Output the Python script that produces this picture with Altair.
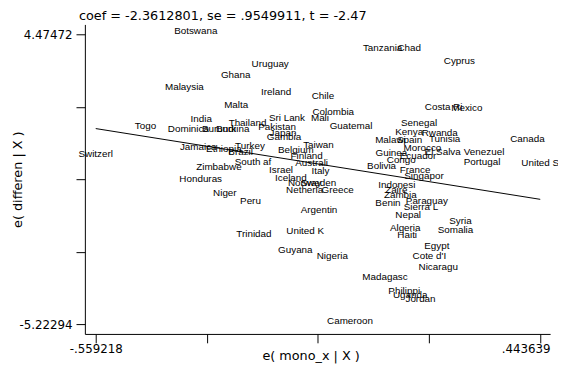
import altair as alt
import pandas as pd

countries = [
    "Botswana", "Uruguay", "Ghana", "Malaysia", "Ireland", "Chile", "Malta",
    "Tanzania", "Chad", "Cyprus", "India", "Sri Lank", "Togo", "Dominica",
    "Burundi", "Burkina", "Thailand", "Pakistan", "Japan", "Gambia",
    "Jamaica", "Ethiopia", "Turkey", "Brazil", "Belgium", "Switzerl",
    "South af", "Zimbabwe", "Israel", "Iceland", "Honduras", "Finland",
    "Taiwan", "Guatemal", "Colombia", "Mali", "Costa Ri", "Mexico",
    "Senegal", "Kenya", "Rwanda", "Malawi", "Spain", "Tunisia", "Canada",
    "Morocco", "Guinea", "Ecuador", "El Salva", "Bolivia", "Venezuel",
    "Portugal", "United S", "Congo", "France", "Singapor", "Indonesi",
    "Zaire", "Paraguay", "Benin", "Sierra L", "Nepal", "Syria", "Algeria",
    "Somalia", "Haiti", "Argentin", "United K", "Egypt", "Guyana",
    "Nigeria", "Cote d'I", "Nicaragu", "Netherla", "Greece", "Norway",
    "Sweden", "Niger", "Peru", "Trinidad", "Madagasc", "Philippi",
    "Uganda", "Jordan", "Cameroon", "Australi", "Italy", "Zambia",
]

x_resid = [
    -0.3335, -0.1656, -0.2435, -0.3591, -0.1523, -0.0467, -0.2423,
    0.0880, 0.1480, 0.2613, -0.3213, -0.1278, -0.4469, -0.3502,
    -0.2813, -0.2501, -0.2168, -0.1501, -0.1367, -0.1345,
    -0.3280, -0.2701, -0.2112, -0.2323, -0.1078, -0.559218,
    -0.2045, -0.2813, -0.1412, -0.1189, -0.3224, -0.0833,
    -0.0567, 0.0167, -0.0233, -0.0533, 0.2258, 0.2780,
    0.1702, 0.1479, 0.2169, 0.1057, 0.1490, 0.2280, 0.4148,
    0.1779, 0.1079, 0.1679, 0.2235, 0.0857, 0.3169,
    0.3125, 0.443639, 0.1301, 0.1613, 0.1813, 0.1201,
    0.1190, 0.1879, 0.1001, 0.1746, 0.1457, 0.2636, 0.1390,
    0.2524, 0.1435, -0.0555, -0.0867, 0.2102, -0.1089,
    -0.0255, 0.1935, 0.2135, -0.0878, -0.0133, -0.0878,
    -0.0567, -0.2679, -0.2101, -0.2023, 0.0934, 0.1368,
    0.1501, 0.1735, 0.0145, -0.0722, -0.0522, 0.1280,
]

y_resid = [
    4.47472, 3.386, 3.014, 2.611, 2.453, 2.314, 2.011,
    3.914, 3.914, 3.485, 1.539, 1.582, 1.308, 1.209,
    1.209, 1.209, 1.407, 1.275, 1.078, 0.946,
    0.606, 0.540, 0.649, 0.451, 0.494, 0.362,
    0.098, -0.077, -0.176, -0.430, -0.473, 0.309,
    0.682, 1.299, 1.760, 1.582, 1.958, 1.912,
    1.407, 1.111, 1.078, 0.837, 0.837, 0.870, 0.880,
    0.583, 0.418, 0.309, 0.451, -0.021, 0.428,
    0.088, 0.065, 0.164, -0.153, -0.374, -0.680,
    -0.836, -1.198, -1.277, -1.419, -1.670, -1.858, -2.099,
    -2.188, -2.353, -1.505, -2.221, -2.725, -2.847,
    -3.035, -3.045, -3.398, -0.845, -0.845, -0.605,
    -0.605, -0.944, -1.198, -2.320, -3.748, -4.223,
    -4.365, -4.497, -5.22294, 0.055, -0.209, -1.000,
]

fit_x = [-0.559218, 0.443639]
fit_y = [1.3205, -1.0475]

x_ticks = [-0.559218, -0.308504, -0.057790, 0.192925, 0.443639]
x_tick_labels = ["-.559218", "", "", "", ".443639"]
y_ticks = [4.47472, 2.050305, -0.37411, -2.798525, -5.22294]
y_tick_labels = ["4.47472", "", "", "", "-5.22294"]

x_domain = [-0.58368, 0.46591]
y_domain = [-5.55181, 4.80454]

title_text = "coef = -2.3612801, se = .9549911, t = -2.47"
x_title = "e( mono_x | X )"
y_title = "e( differen | X )"


def label_expr(values, labels):
    expr = "''"
    for v, lab in zip(values, labels):
        expr = f"abs(datum.value - ({v})) < 1e-6 ? '{lab}' : ({expr})"
    return expr


df = pd.DataFrame({"country": countries, "x": x_resid, "y": y_resid})
fit = pd.DataFrame({"x": fit_x, "y": fit_y})

xscale = alt.Scale(domain=x_domain, nice=False, zero=False)
yscale = alt.Scale(domain=y_domain, nice=False, zero=False)

common_axis = dict(
    grid=False,
    domainColor="black",
    domainWidth=1,
    tickColor="black",
    tickWidth=1,
    tickSize=9,
    labelFont="DejaVu Sans",
    labelFontSize=12,
    labelColor="black",
    titleFont="DejaVu Sans",
    titleFontSize=13,
    titleFontWeight="normal",
    titleColor="black",
)

xaxis = alt.Axis(
    values=x_ticks,
    labelExpr=label_expr(x_ticks, x_tick_labels),
    labelAlign={"condition": {"test": "datum.value > 0.4", "value": "right"}, "value": "center"},
    labelOffset={"condition": {"test": "datum.value > 0.4", "value": 10}, "value": 0},
    labelPadding=1,
    labelFlush=False,
    labelOverlap=False,
    title=x_title,
    titleX=229,
    titleY=22,
    titleBaseline="middle",
    titleAlign="center",
    **common_axis,
)

yaxis = alt.Axis(
    values=y_ticks,
    labelExpr=label_expr(y_ticks, y_tick_labels),
    labelPadding=4,
    labelFlush=False,
    labelOverlap=False,
    title=y_title,
    titleX=-68,
    titleY=157,
    titleAngle=-90,
    titleBaseline="middle",
    titleAlign="center",
    **common_axis,
)

line = alt.Chart(fit).mark_line(color="black", strokeWidth=1).encode(
    x=alt.X("x:Q", scale=xscale, axis=xaxis),
    y=alt.Y("y:Q", scale=yscale, axis=yaxis),
)

labels = alt.Chart(df).mark_text(
    font="Liberation Sans", fontSize=10, align="center", baseline="alphabetic", color="black"
).encode(
    x=alt.X("x:Q", scale=xscale, axis=xaxis),
    y=alt.Y("y:Q", scale=yscale, axis=yaxis),
    text="country:N",
)

chart = alt.layer(line, labels).properties(
    width=472,
    height=314,
    title=alt.TitleParams(
        title_text, anchor="start", frame="group", font="DejaVu Sans",
        fontSize=13, fontWeight="normal", color="black", offset=2, dx=-6,
    ),
    autosize=alt.AutoSizeParams(type="none"),
    padding={"left": 78, "top": 14, "right": 8, "bottom": 41},
).configure_view(stroke=None)

chart.save("out.html", embed_options={"renderer": "svg", "actions": False})
